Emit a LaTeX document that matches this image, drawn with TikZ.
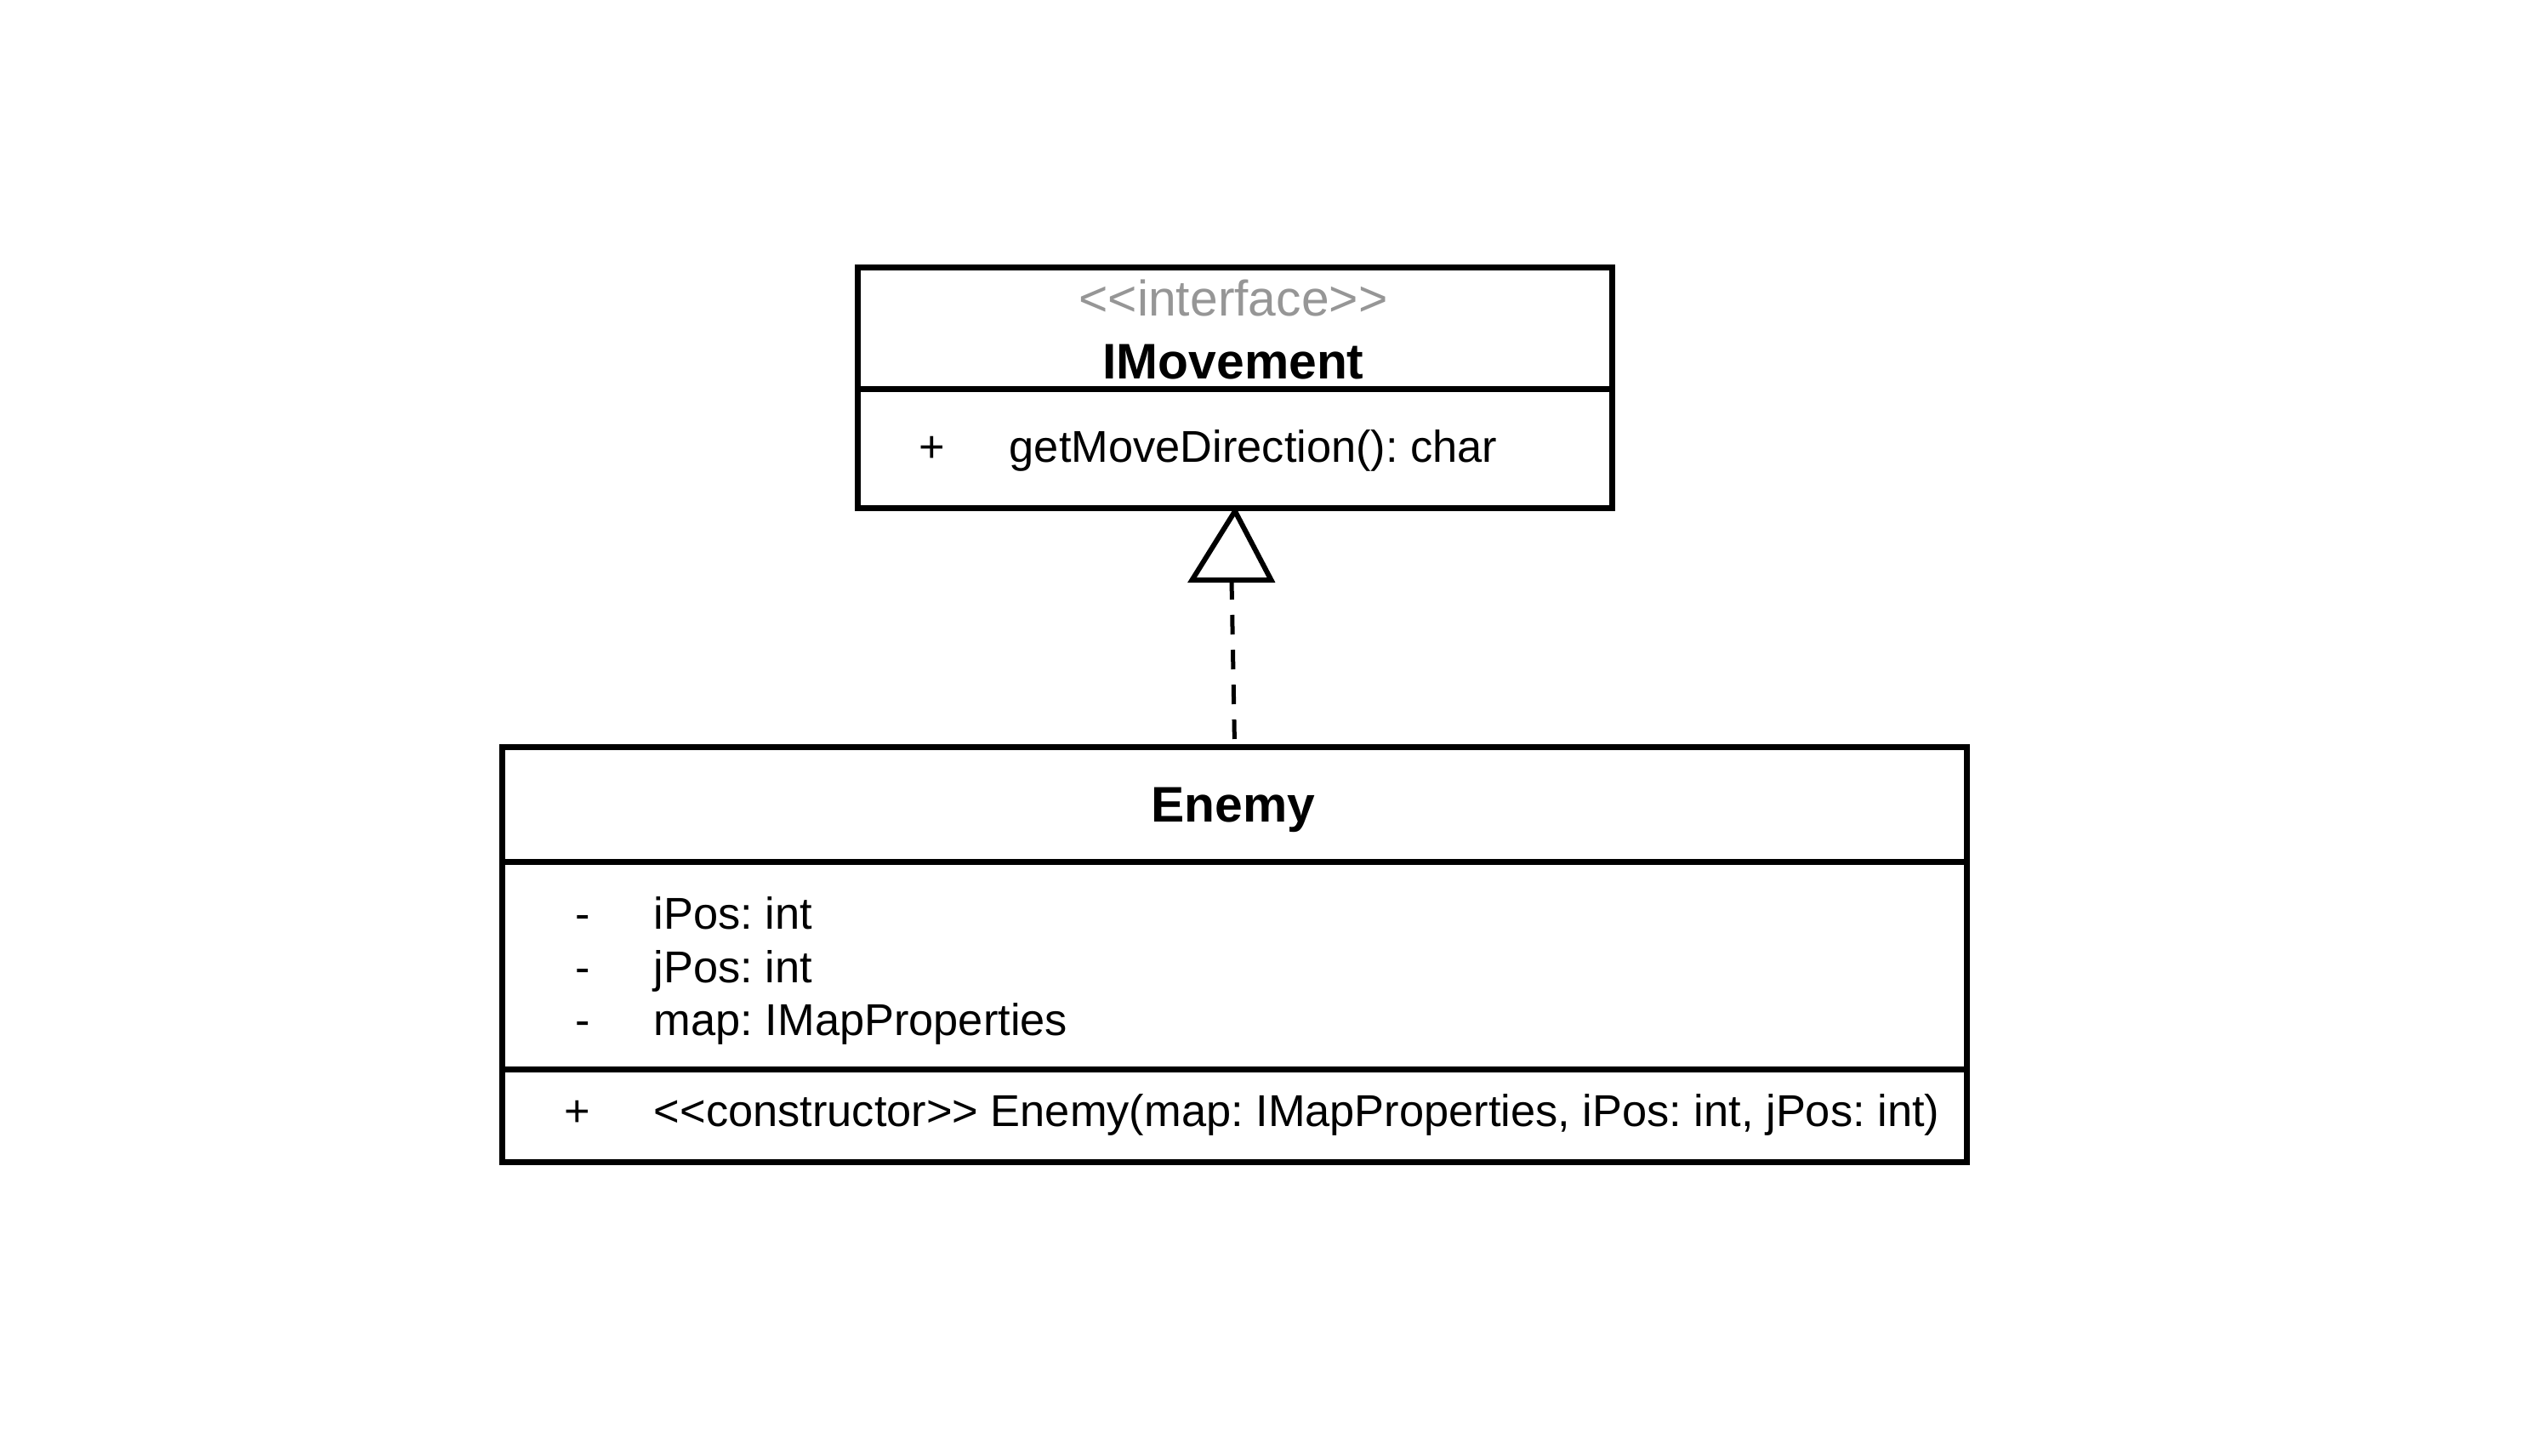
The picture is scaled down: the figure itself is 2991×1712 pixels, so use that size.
\documentclass[tikz,border=0pt]{standalone}
\usepackage{fontspec}
\setmainfont{Liberation Sans}[Ligatures=TeXOff]
\frenchspacing
\definecolor{stereogray}{RGB}{150,150,150}
\tikzset{
  umlbox/.style={draw=black, line width=1.75pt, fill=none, inner sep=0pt, anchor=north west},
  divider/.style={draw=black, line width=1.75pt},
  txt/.style={inner sep=0pt, anchor=base west, font=\fontsize{13.1pt}{15pt}\selectfont},
  vis/.style={inner sep=0pt, anchor=base, font=\fontsize{13.1pt}{15pt}\selectfont},
  title/.style={inner sep=0pt, anchor=base, font=\fontsize{14.7pt}{17pt}\selectfont\bfseries},
  stereo/.style={inner sep=0pt, anchor=base, text=stereogray, font=\fontsize{14.7pt}{17pt}\selectfont},
  realline/.style={draw=black, line width=1.25pt, dash pattern=on 5.75pt off 4.5pt},
  tri/.style={draw=black, line width=1.5pt, line join=miter, fill=white}
}
\begin{document}
\begin{tikzpicture}[x=0.25pt, y=-0.25pt]
\path[use as bounding box] (0,0) rectangle (2991,1712);
% IMovement
\node[umlbox, minimum width=221.75pt, minimum height=70.75pt] (imov) at (1005,311) {};
\draw[divider] (imov.west |- 0,458) -- (imov.east |- 0,458);
\node[stereo] (imovst) at (1450,371) {<<interface>>};
\node[title] (imovname) at (1450,445) {IMovement};
\node[vis] (imovvis) at (1096,543) {+};
\node[txt] (imovop) at (1186,543) {getMoveDirection(): char};
% Enemy
\node[umlbox, minimum width=430.5pt, minimum height=122pt] (enemy) at (587,875) {};
\draw[divider] (enemy.west |- 0,1013) -- (enemy.east |- 0,1013);
\draw[divider] (enemy.west |- 0,1257) -- (enemy.east |- 0,1257);
\node[title] (enemyname) at (1450,966) {Enemy};
\node[vis] (v1) at (685,1092) {-};
\node[txt] (a1) at (768,1092) {iPos: int};
\node[vis] (v2) at (685,1155) {-};
\node[txt] (a2) at (768,1155) {jPos: int};
\node[vis] (v3) at (685,1217) {-};
\node[txt] (a3) at (768,1217) {map: IMapProperties};
\node[vis] (v4) at (679,1324) {+};
\node[txt] (c1) at (768,1324) {<<constructor>> Enemy(map: IMapProperties, iPos: int, jPos: int)};
% realization
\coordinate (tb) at (1448,682);
\draw[realline] (tb) -- (enemy.north);
\draw[tri] (imov.south) -- (1401.5,682) -- (1494.5,682) -- cycle;
\end{tikzpicture}
\end{document}
